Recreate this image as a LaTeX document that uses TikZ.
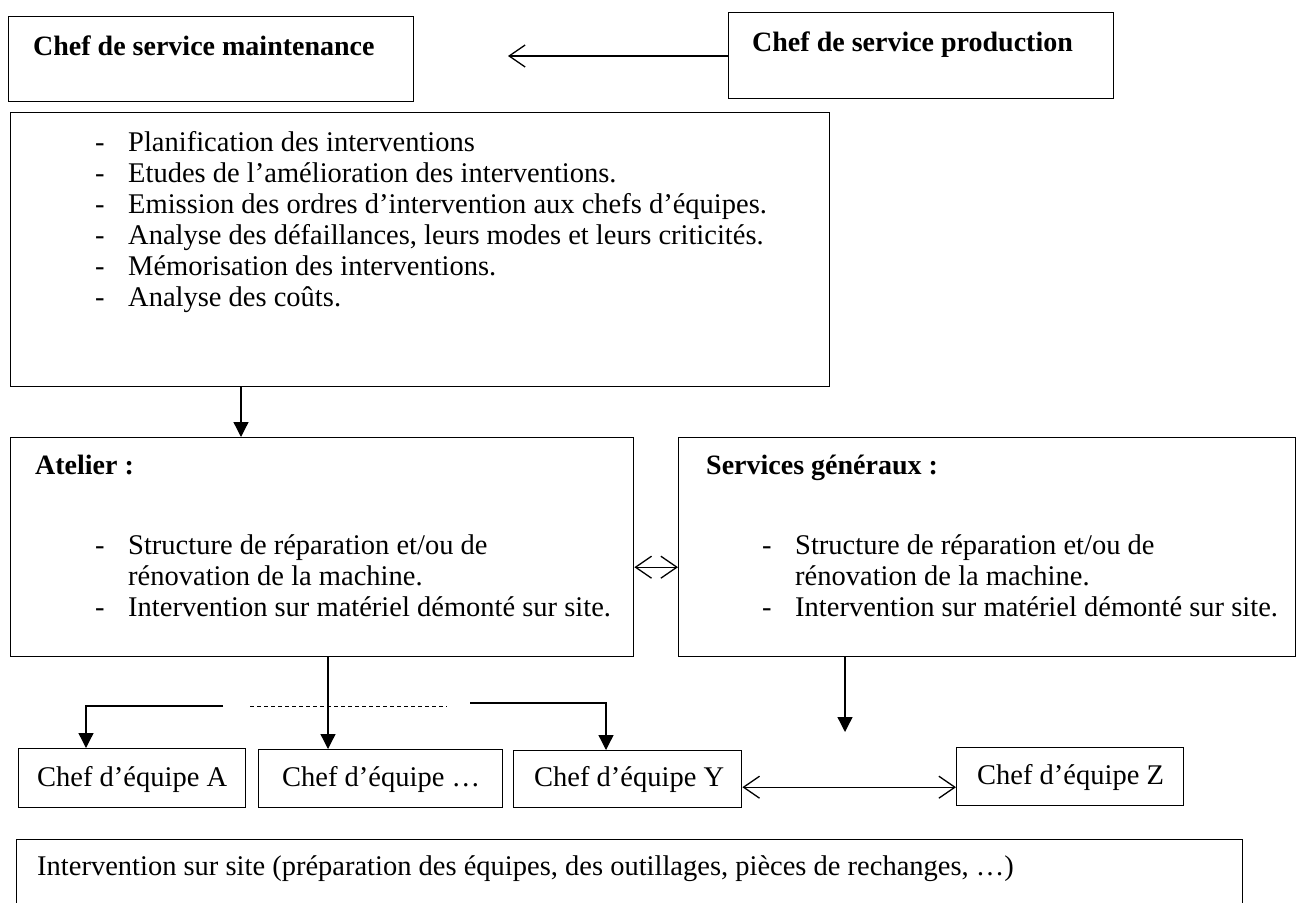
\documentclass[tikz,border=0pt]{standalone}
\usepackage{fontspec}
\setmainfont{Liberation Serif}
\usetikzlibrary{arrows.meta,calc}
\begin{document}
\begin{tikzpicture}[x=1pt,y=-1pt,
  box/.style={draw, line width=1.4pt, inner sep=0pt, anchor=north west},
  txt/.style={anchor=base west, inner sep=0pt, font=\fontsize{28.5}{31}\selectfont},
  btxt/.style={txt, font=\fontsize{28}{31}\selectfont\bfseries},
  conn/.style={line width=1.3pt},
  tri/.style={conn, -{Triangle[length=15pt,width=15pt]}},
  barb/.style={conn, -{Straight Barb[length=16pt,width=22pt]}},
  dbarb/.style={conn, {Straight Barb[length=16pt,width=22pt]}-{Straight Barb[length=16pt,width=22pt]}}]
\useasboundingbox (0,0) rectangle (1297,902);
% boxes
\node[box, minimum width=405pt, minimum height=85pt] (b1) at (8,16) {};
\node[box, minimum width=385pt, minimum height=86pt] (b2) at (728,12) {};
\node[box, minimum width=819pt, minimum height=274pt] (b3) at (10,112) {};
\node[box, minimum width=623pt, minimum height=219pt] (b4) at (10,437) {};
\node[box, minimum width=617pt, minimum height=219pt] (b5) at (678,437) {};
\node[box, minimum width=227pt, minimum height=59pt] (eA) at (18,748) {};
\node[box, minimum width=244pt, minimum height=58pt] (eD) at (258,749) {};
\node[box, minimum width=228pt, minimum height=57pt] (eY) at (513,750) {};
\node[box, minimum width=227pt, minimum height=58pt] (eZ) at (956,747) {};
\node[box, minimum width=1226pt, minimum height=90pt] (bb) at (16,839) {};
% texts
\node[btxt] (t1) at (33,55) {Chef de service maintenance};
\node[btxt] (t2) at (752,51) {Chef de service production};
\foreach \yy/\tt [count=\i] in {151/{Planification des interventions},
  182/{Etudes de l’amélioration des interventions.},
  213/{Emission des ordres d’intervention aux chefs d’équipes.},
  244/{Analyse des défaillances, leurs modes et leurs criticités.},
  275/{Mémorisation des interventions.},
  306/{Analyse des coûts.}}{
  \node[txt] (ld\i) at (95,\yy) {-};
  \node[txt] (lt\i) at (128,\yy) {\tt};
}
\node[btxt] (ta) at (35,474) {Atelier :};
\node[txt] (ad1) at (95,554) {-};
\node[txt] (at1) at (128,554) {Structure de réparation et/ou de};
\node[txt] (at2) at (128,585) {rénovation de la machine.};
\node[txt] (ad2) at (95,616) {-};
\node[txt] (at3) at (128,616) {Intervention sur matériel démonté sur site.};
\node[btxt] (ts) at (706,474) {Services généraux :};
\node[txt] (sd1) at (762,554) {-};
\node[txt] (st1) at (795,554) {Structure de réparation et/ou de};
\node[txt] (st2) at (795,585) {rénovation de la machine.};
\node[txt] (sd2) at (762,616) {-};
\node[txt] (st3) at (795,616) {Intervention sur matériel démonté sur site.};
\node[txt] (tA) at (37,786) {Chef d’équipe A};
\node[txt] (tD) at (282,786) {Chef d’équipe …};
\node[txt] (tY) at (534,786) {Chef d’équipe Y};
\node[txt] (tZ) at (977,784) {Chef d’équipe Z};
\node[txt] (tb) at (37,875) {Intervention sur site (préparation des équipes, des outillages, pièces de rechanges, …)};
% connectors
\coordinate (tip1) at (508,56);
\coordinate (p12) at (728,56);
\draw[barb] (p12) -- (tip1);
\draw[tri] ($(b3.south west)+(231,0)$) -- ($(b4.north west)+(231,0)$);
\coordinate (p45) at ($(b4.east)+(0,20)$);
\draw[dbarb] (p45) -- (p45 -| b5.west);
\draw[tri] ($(b4.south west)+(318,0)$) -- ($(eD.north west)+(70,0)$);
\coordinate (lA) at (223,706);
\draw[tri] (lA) -| ($(eA.north west)+(68,0)$);
\coordinate (dL) at (250,706);
\coordinate (dR) at (447,706);
\draw[line width=1pt, dash pattern=on 4pt off 3pt] (dL) -- (dR);
\coordinate (rL) at (470,703);
\draw[tri] (rL) -| ($(eY.north west)+(93,0)$);
\coordinate (pYZ) at ($(eY.east)+(0,8)$);
\draw[dbarb] (pYZ) -- (pYZ -| eZ.west);
\coordinate (tip5) at (845,732);
\draw[tri] ($(b5.south west)+(167,0)$) -- (tip5);
\end{tikzpicture}
\end{document}
